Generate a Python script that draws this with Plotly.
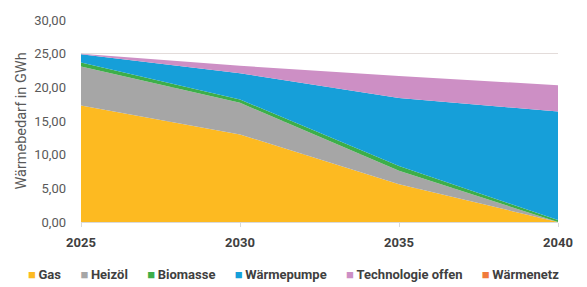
import plotly.graph_objects as go

years = [2025, 2030, 2035, 2040]
names = ["Gas", "Heizöl", "Biomasse", "Wärmepumpe", "Technologie offen", "Wärmenetz"]
gas = [17.3, 13.0, 5.6, 0.0]
heizoel = [5.8, 4.7, 2.0, 0.0]
biomasse = [0.6, 0.5, 0.7, 0.3]
waermepumpe = [1.2, 3.9, 10.1, 16.1]
technologie_offen = [0.1, 1.1, 3.3, 3.9]
waermenetz = [0.0, 0.0, 0.0, 0.0]
series = [gas, heizoel, biomasse, waermepumpe, technologie_offen, waermenetz]
colors = ["#FDBA21", "#A6A6A6", "#3DAE49", "#169FD9", "#CD8FC5", "#F07B3B"]
y_ticks = [0, 5, 10, 15, 20, 25, 30]

fig = go.Figure()
for name, vals, col in zip(names, series, colors):
    fig.add_trace(go.Scatter(
        x=years, y=vals, name=name, stackgroup="one", mode="none",
        fillcolor=col, showlegend=False, hoverinfo="x+y+name",
    ))

gap = "&nbsp;" * 6
legend_text = gap.join(
    f"<span style='color:{c}'>■</span>\u2009{n}" for n, c in zip(names, colors)
)
fig.add_annotation(
    text=legend_text, xref="paper", yref="paper", x=0.445, y=-0.262,
    xanchor="center", yanchor="middle", showarrow=False,
    font=dict(family="Roboto", size=13, color="#404040", weight="bold"),
)

# page body has an 8px default margin, so the figure is offset by 8px
fig.update_layout(
    width=579, height=279,
    margin=dict(l=73, r=29, t=12, b=65),
    paper_bgcolor="white", plot_bgcolor="white",
    separators=",.",
    font=dict(family="Roboto", color="#404040"),
    xaxis=dict(
        range=[2025, 2040], tickvals=years, ticktext=[str(y) for y in years],
        showgrid=False, zeroline=False, showline=True, linecolor="#D9D9D9",
        ticks="outside", ticklen=4, tickcolor="#D9D9D9", automargin=False,
        ticklabelstandoff=4,
        tickfont=dict(family="Roboto", size=13, color="#404040", weight="bold"),
    ),
    yaxis=dict(
        range=[0, 30], tickvals=y_ticks, tickformat=".2f", automargin=False,
        showgrid=True, gridcolor="#E3DCDA", zeroline=False, showline=False,
        ticklabelstandoff=14,
        tickfont=dict(family="Roboto", size=13, color="#595959"),
        title=dict(text="Wärmebedarf in GWh", font=dict(family="Roboto", size=14.5, color="#595959"), standoff=4),
    ),
)

fig.write_html("out.html")
